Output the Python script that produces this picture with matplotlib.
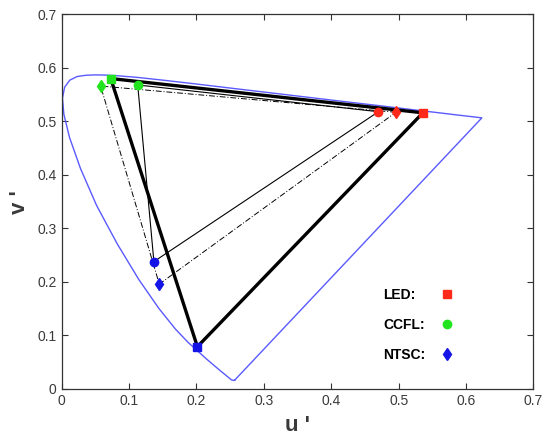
import matplotlib.pyplot as plt
from matplotlib.lines import Line2D

plt.rcParams['font.family'] = ['Liberation Sans', 'DejaVu Sans']

# spectral locus (u', v'), closed by the purple line
locus_u = [0.2568, 0.2557, 0.2522, 0.2347, 0.2161, 0.1877, 0.1690, 0.1441,
           0.1147, 0.0828, 0.0521, 0.0282, 0.0119, 0.0035, 0.0014, 0.0046,
           0.0123, 0.0231, 0.0360, 0.0501, 0.0643, 0.0792, 0.1127, 0.1531,
           0.2026, 0.2623, 0.3315, 0.4035, 0.4692, 0.5203, 0.5565, 0.5830,
           0.6109, 0.6234, 0.2568]
locus_v = [0.0165, 0.0159, 0.0169, 0.0350, 0.0549, 0.0871, 0.1119, 0.1510,
           0.2044, 0.2708, 0.3427, 0.4117, 0.4698, 0.5131, 0.5432, 0.5638,
           0.5770, 0.5837, 0.5861, 0.5868, 0.5865, 0.5856, 0.5821, 0.5766,
           0.5694, 0.5604, 0.5501, 0.5393, 0.5296, 0.5219, 0.5165, 0.5125,
           0.5084, 0.5065, 0.0165]

# primaries R, G, B
led_u = [0.536, 0.073, 0.2015]
led_v = [0.516, 0.580, 0.079]
ccfl_u = [0.470, 0.113, 0.137]
ccfl_v = [0.518, 0.568, 0.238]
ntsc_u = [0.496, 0.058, 0.145]
ntsc_v = [0.517, 0.566, 0.196]

primary_colors = ['#ff2a1a', '#22e41e', '#1414e6']
labels = ['LED:', 'CCFL:', 'NTSC:']
ticks = [0, 0.1, 0.2, 0.3, 0.4, 0.5, 0.6, 0.7]

fig = plt.figure(figsize=(5.42, 4.36), dpi=100)
ax = fig.add_axes([0.1135, 0.1078, 0.8708, 0.8594])

ax.plot(locus_u, locus_v, color='#5a5aff', lw=1.0)


def closed(vals):
    return list(vals) + [vals[0]]


ax.plot(closed(ntsc_u), closed(ntsc_v), color='black', lw=0.7, ls=(0, (6, 2, 1, 2)))
ax.plot(closed(ccfl_u), closed(ccfl_v), color='black', lw=0.8)
ax.plot(closed(led_u), closed(led_v), color='black', lw=2.4)

for i, c in enumerate(primary_colors):
    ax.plot(ntsc_u[i], ntsc_v[i], marker='d', ms=6.5, color=c, ls='none')
    ax.plot(ccfl_u[i], ccfl_v[i], marker='o', ms=6, color=c, ls='none')
    ax.plot(led_u[i], led_v[i], marker='s', ms=6, color=c, ls='none')

handles = [
    Line2D([], [], ls='none', marker='s', ms=6, color=primary_colors[0]),
    Line2D([], [], ls='none', marker='o', ms=6, color=primary_colors[1]),
    Line2D([], [], ls='none', marker='d', ms=6.5, color=primary_colors[2]),
]
leg = ax.legend(handles, labels, markerfirst=False, frameon=False,
                prop={'weight': 'bold', 'size': 10}, handlelength=1.0,
                handletextpad=1.1, labelspacing=1.15, borderpad=0,
                borderaxespad=0, loc='upper left', bbox_to_anchor=(0.681, 0.270))

ax.set_xlim(0, 0.7)
ax.set_ylim(0, 0.7)
ax.set_xticks(ticks)
ax.set_yticks(ticks)
ax.set_xticklabels([f'{t:g}' for t in ticks])
ax.set_yticklabels([f'{t:g}' for t in ticks])
ax.tick_params(direction='in', length=4, width=0.8, top=True, right=True,
               labelsize=10, labelcolor='#3a3a3a', color='#333333')
for s in ax.spines.values():
    s.set_color('#333333')
    s.set_linewidth(0.9)

ax.set_xlabel("u '", fontsize=16, fontweight='bold', color='#3a3a3a', labelpad=5)
ax.set_ylabel("v '", fontsize=16, fontweight='bold', color='#3a3a3a', labelpad=5)

# left-align the legend texts while keeping the markers in one column
fig.canvas.draw()
r = fig.canvas.get_renderer()
widths = [t.get_window_extent(r).width for t in leg.get_texts()]
for t, w in zip(leg.get_texts(), widths):
    t.set_x(-(max(widths) - w))

fig.savefig('out.png', dpi=100)
